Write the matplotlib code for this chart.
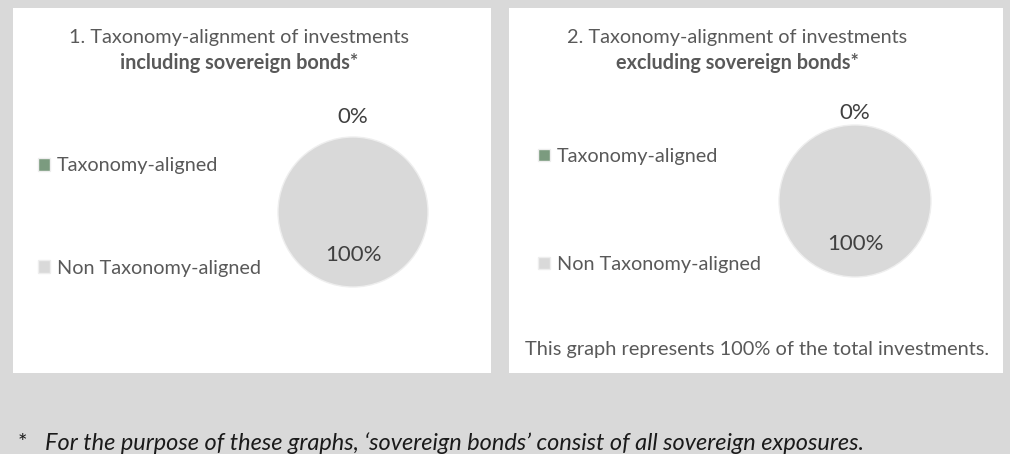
import matplotlib
matplotlib.use("Agg")
import matplotlib.pyplot as plt
from matplotlib.patches import Rectangle
import numpy as np

plt.rcParams["font.family"] = ["Lato", "DejaVu Sans"]

categories = ["Taxonomy-aligned", "Non Taxonomy-aligned"]
incl_values = [0, 100]
excl_values = [0, 100]
titles = ["1. Taxonomy-alignment of investments", "2. Taxonomy-alignment of investments"]
subtitles = ["including sovereign bonds*", "excluding sovereign bonds*"]
colors = ["#7b9b7f", "#d9d9d9"]
note = "This graph represents 100% of the total investments."
footnote = "For the purpose of these graphs, \u2018sovereign bonds\u2019 consist of all sovereign exposures."

W, H = 1010, 454
fig = plt.figure(figsize=(W / 100, H / 100), dpi=100, facecolor="#d9d9d9")


def fx(x):
    return x / W


def fy(y):
    return 1 - y / H


# white panels
for x0, x1 in [(13, 491), (509, 1003)]:
    fig.add_artist(Rectangle((fx(x0), fy(373)), fx(x1 - x0), (373 - 8) / H,
                             transform=fig.transFigure, facecolor="white",
                             edgecolor="none", zorder=0))

panels = [
    dict(values=incl_values, title_x=239, pie=(353, 212, 75), out_d=1.27,
         leg=(38, 217), spacing=4.3),
    dict(values=excl_values, title_x=737, pie=(855, 201, 76), out_d=1.16,
         leg=(538, 210.5), spacing=4.6),
]

for i, p in enumerate(panels):
    fig.text(fx(p["title_x"]), fy(38), titles[i], ha="center", va="center",
             fontsize=14.3, color="#595959")
    fig.text(fx(p["title_x"]), fy(63), subtitles[i], ha="center", va="center",
             fontsize=14.3, color="#595959", fontweight="bold")

    cx, cy, r = p["pie"]
    size = 4 * r
    ax = fig.add_axes([fx(cx - size / 2), fy(cy + size / 2), size / W, size / H])
    ax.set_aspect("equal")
    ax.axis("off")
    vals = p["values"]
    total = sum(vals)
    wedges, _ = ax.pie(vals, colors=colors, startangle=90, counterclock=False,
                       radius=1, wedgeprops=dict(edgecolor="#eeeeee", linewidth=1))
    for w, v in zip(wedges, vals):
        ang = np.deg2rad((w.theta1 + w.theta2) / 2)
        d = p["out_d"] if v / total < 0.05 else 0.57
        ax.text(d * np.cos(ang), d * np.sin(ang), f"{v / total * 100:.0f}%",
                ha="center", va="center", fontsize=16, color="#404040")
    ax.set_xlim(-2, 2)
    ax.set_ylim(-2, 2)

    lx, ly = p["leg"]
    fig.legend(wedges, categories, loc="center left",
               bbox_to_anchor=(fx(lx), fy(ly)), frameon=False, fontsize=14.3,
               labelcolor="#595959", handlelength=0.6, handleheight=0.6,
               handletextpad=0.35, labelspacing=p["spacing"], borderpad=0,
               borderaxespad=0)

fig.text(fx(757), fy(350), note, ha="center", va="center", fontsize=14.4,
         color="#595959")

fig.text(fx(22), fy(443), "*", ha="center", va="center", fontsize=16,
         color="#1a1a1a")
fig.text(fx(45), fy(443), footnote, ha="left", va="center", fontsize=16.9,
         color="#1a1a1a", style="italic")

fig.savefig("out.png", dpi=100, facecolor=fig.get_facecolor())
plt.close(fig)
